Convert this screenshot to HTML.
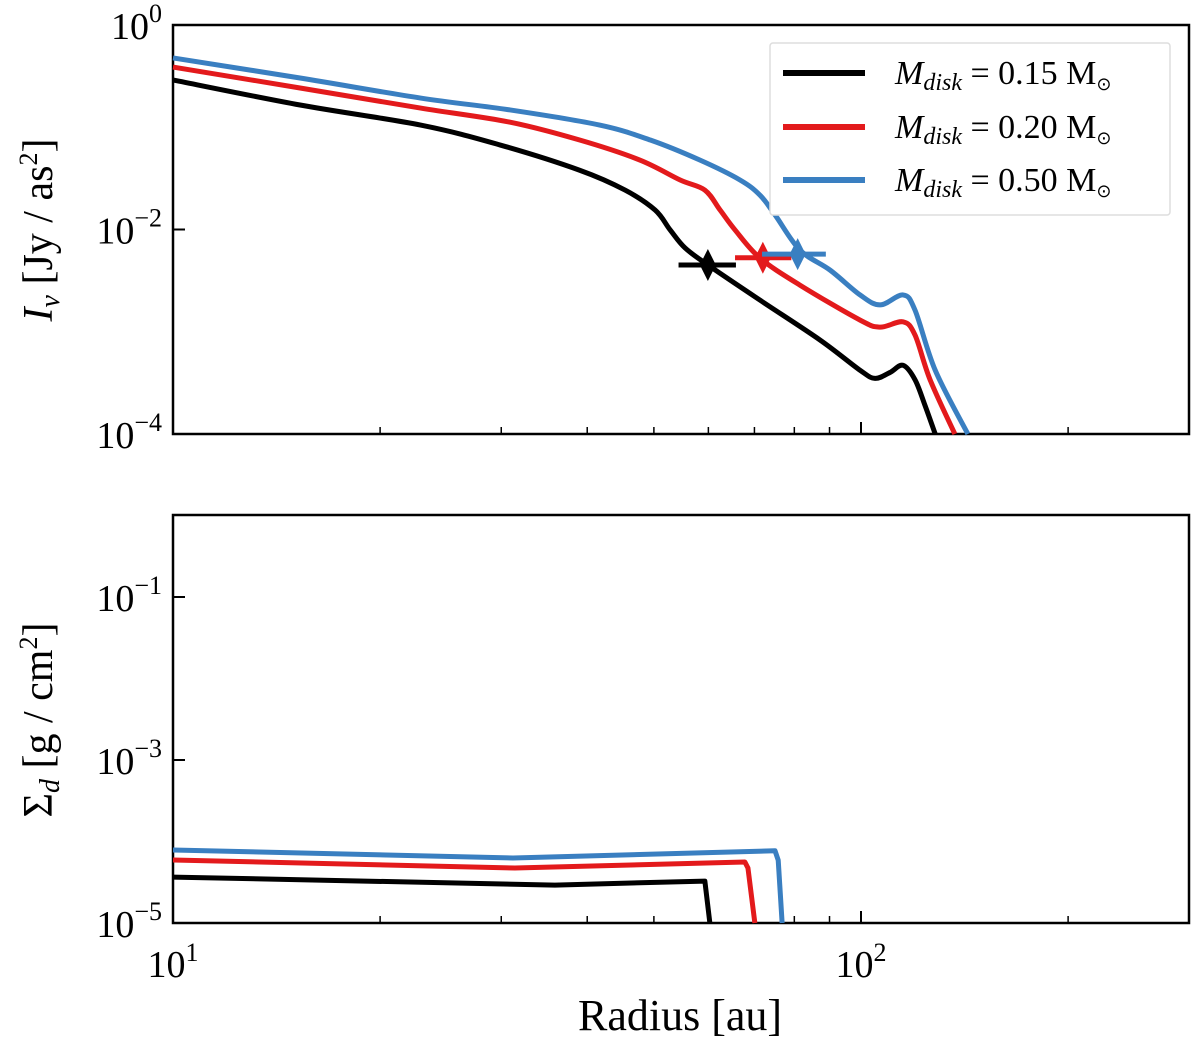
<!DOCTYPE html>
<html><head><meta charset="utf-8"><style>
body{margin:0;background:#fff}
svg{display:block;font-family:"Liberation Serif",serif}
</style></head><body>
<svg id="chart" width="1200" height="1057">
<rect x="173" y="25" width="1016" height="409" fill="none" stroke="#000" stroke-width="2.5"/>
<rect x="173" y="515" width="1016" height="408" fill="none" stroke="#000" stroke-width="2.5"/>
<g id="ticks"></g>
<g id="series"></g>
<text x="52" y="230" font-size="42" text-anchor="middle" transform="rotate(-90 52 230)"><tspan font-style="italic">I</tspan><tspan font-style="italic" font-size="28" dy="7">ν</tspan><tspan dy="-7"> [Jy / as</tspan><tspan font-size="26" dy="-15">2</tspan><tspan dy="15">]</tspan></text>
<text x="52" y="720" font-size="42" text-anchor="middle" transform="rotate(-90 52 720)">Σ<tspan font-style="italic" font-size="28" dy="7">d</tspan><tspan dy="-7"> [g / cm</tspan><tspan font-size="26" dy="-15">2</tspan><tspan dy="15">]</tspan></text>
<text x="680" y="1030" font-size="44" text-anchor="middle">Radius [au]</text>
<g>
<rect x="770" y="43" width="400" height="172" fill="#fff" stroke="#ddd" stroke-width="1.5" rx="3"/>
<line x1="783" y1="73" x2="865" y2="73" stroke="#000" stroke-width="6"/>
<line x1="783" y1="127" x2="865" y2="127" stroke="#e31a1c" stroke-width="6"/>
<line x1="783" y1="180" x2="865" y2="180" stroke="#3a7fc1" stroke-width="6"/>
<text x="895" y="84" font-size="34"><tspan font-style="italic">M</tspan><tspan font-style="italic" font-size="24" dy="6">disk</tspan><tspan dy="-6"> = 0.15 M</tspan><tspan font-size="18" dy="6">⊙</tspan></text>
<text x="895" y="138" font-size="34"><tspan font-style="italic">M</tspan><tspan font-style="italic" font-size="24" dy="6">disk</tspan><tspan dy="-6"> = 0.20 M</tspan><tspan font-size="18" dy="6">⊙</tspan></text>
<text x="895" y="191" font-size="34"><tspan font-style="italic">M</tspan><tspan font-style="italic" font-size="24" dy="6">disk</tspan><tspan dy="-6"> = 0.50 M</tspan><tspan font-size="18" dy="6">⊙</tspan></text>
</g>
</svg>
<script>
const colors=["#000","#e31a1c","#3a7fc1"];
const blackR=[10,15.3,22.9,29.9,39.0,45.4,50.2,52.8,55.5,59.9,71.3,87.2,99.7,104.8,110.2,115.1,119.8,123.9,128.2];
const blackI=[0.29,0.165,0.105,0.067,0.038,0.0243,0.0155,0.0099,0.0066,0.0045,0.00204,0.00083,0.00042,0.00035,0.0004,0.00047,0.00034,0.00019,0.0001];
const redR=[10,15.3,22.9,30.9,39.0,47.7,54.6,59.3,62.4,65.6,71.3,81.5,99.7,106.6,115.1,119.8,126,136.9];
const redI=[0.388,0.242,0.154,0.112,0.075,0.0478,0.0305,0.0243,0.0155,0.0099,0.00526,0.00286,0.0013,0.00111,0.00125,0.00093,0.00034,0.0001];
const blueR=[10,15.3,22.9,30.9,41.7,49.4,58.3,66.7,71.3,75,81.5,90.2,99.7,106.6,115.1,119.8,128.2,143];
const blueI=[0.476,0.303,0.193,0.1476,0.105,0.075,0.0478,0.0305,0.0217,0.0139,0.0063,0.004,0.00229,0.00183,0.00229,0.00163,0.00042,0.0001];
const markR=[59.9,72.0,80.9];
const markI=[0.0045,0.0053,0.00575];
const markLo=[54.3,65.6,71.8];
const markHi=[65.8,79.2,88.9];
const sBlackR=[10,35.9,59.3,60.3];
const sBlackS=[3.66e-5,2.92e-5,3.27e-5,1e-5];
const sRedR=[10,31.4,67.8,68.5,70.1];
const sRedS=[5.93e-5,4.73e-5,5.6e-5,4.73e-5,1e-5];
const sBlueR=[10,31.2,75,75.8,76.8];
const sBlueS=[7.87e-5,6.28e-5,7.69e-5,5.9e-5,1e-5];
const xMajor=[10,100];
const xMinor=[20,30,40,50,60,70,80,90,200,300];
const topLabels=[0,-2,-4];
const botLabels=[-1,-3,-5];

const NS="http://www.w3.org/2000/svg";
const X=r=>173+688*Math.log10(r/10);
const YT=v=>25-102.25*Math.log10(v);
const YB=v=>923-81.5*(Math.log10(v)+5);
const tk=document.getElementById('ticks'),se=document.getElementById('series');
function mk(t,a,p){const e=document.createElementNS(NS,t);for(const k in a)e.setAttribute(k,a[k]);p.appendChild(e);return e;}
xMajor.forEach(r=>{[434,923].forEach(b=>{
 const l=mk('line',{x1:X(r),x2:X(r),y1:b,y2:b-12,stroke:'#000','stroke-width':2},tk);
 
 });
 const tx=mk('text',{x:X(r),y:977,'font-size':38,'text-anchor':'middle'},tk);
 
 
 tx.innerHTML='10<tspan font-size="26" dy="-16">'+Math.log10(r)+'</tspan>';
});
xMinor.forEach(r=>{[434,923].forEach(b=>{
 const l=mk('line',{x1:X(r),x2:X(r),y1:b,y2:b-7,stroke:'#000','stroke-width':1.5},tk);
 
 });});
function yt(labels,Y,nm){
 labels.forEach(e=>{const y=Y(Math.pow(10,e));
  const l=mk('line',{x1:173,x2:185,y1:y,y2:y,stroke:'#000','stroke-width':2},tk);
  
  
  const t=mk('text',{x:162,y:y+14,'font-size':38,'text-anchor':'end'},tk);
  
  
  t.innerHTML='10<tspan font-size="26" dy="-17">'+(e<0?'−'+(-e):e)+'</tspan>';});
}
yt(topLabels,YT,'top-y');
yt(botLabels,YB,'bottom-y');
function smooth(P){let d='M'+P[0][0]+','+P[0][1];
 for(let i=0;i<P.length-1;i++){const p0=P[Math.max(0,i-1)],p1=P[i],p2=P[i+1],p3=P[Math.min(P.length-1,i+2)];
  const c1=[p1[0]+(p2[0]-p0[0])/6,p1[1]+(p2[1]-p0[1])/6],c2=[p2[0]-(p3[0]-p1[0])/6,p2[1]-(p3[1]-p1[1])/6];
  d+=' C'+c1+' '+c2+' '+p2;}
 return d;}
function line(R,V,Y,c,nm,sm){const P=R.map((r,i)=>[X(r),Y(V[i])]);
 const p=sm?mk('path',{d:smooth(P),fill:'none',stroke:c,'stroke-width':5,'stroke-linejoin':'round'},se)
  :mk('polyline',{points:P.map(q=>q.join(',')).join(' '),fill:'none',stroke:c,'stroke-width':5,'stroke-linejoin':'round'},se);
 
 }
line(blackR,blackI,YT,colors[0],'intensity-015',true);
line(redR,redI,YT,colors[1],'intensity-020',true);
line(blueR,blueI,YT,colors[2],'intensity-050',true);
line(sBlackR,sBlackS,YB,colors[0],'surface-density-015',false);
line(sRedR,sRedS,YB,colors[1],'surface-density-020',false);
line(sBlueR,sBlueS,YB,colors[2],'surface-density-050',false);
markR.forEach((r,i)=>{const x=X(r),y=YT(markI[i]);
 const e=mk('line',{x1:X(markLo[i]),x2:X(markHi[i]),y1:y,y2:y,stroke:colors[i],'stroke-width':5},se);
 
 
 const d=mk('polygon',{points:`${x},${y-16} ${x+8},${y} ${x},${y+16} ${x-8},${y}`,fill:colors[i]},se);
 
 });
</script>
</body></html>
